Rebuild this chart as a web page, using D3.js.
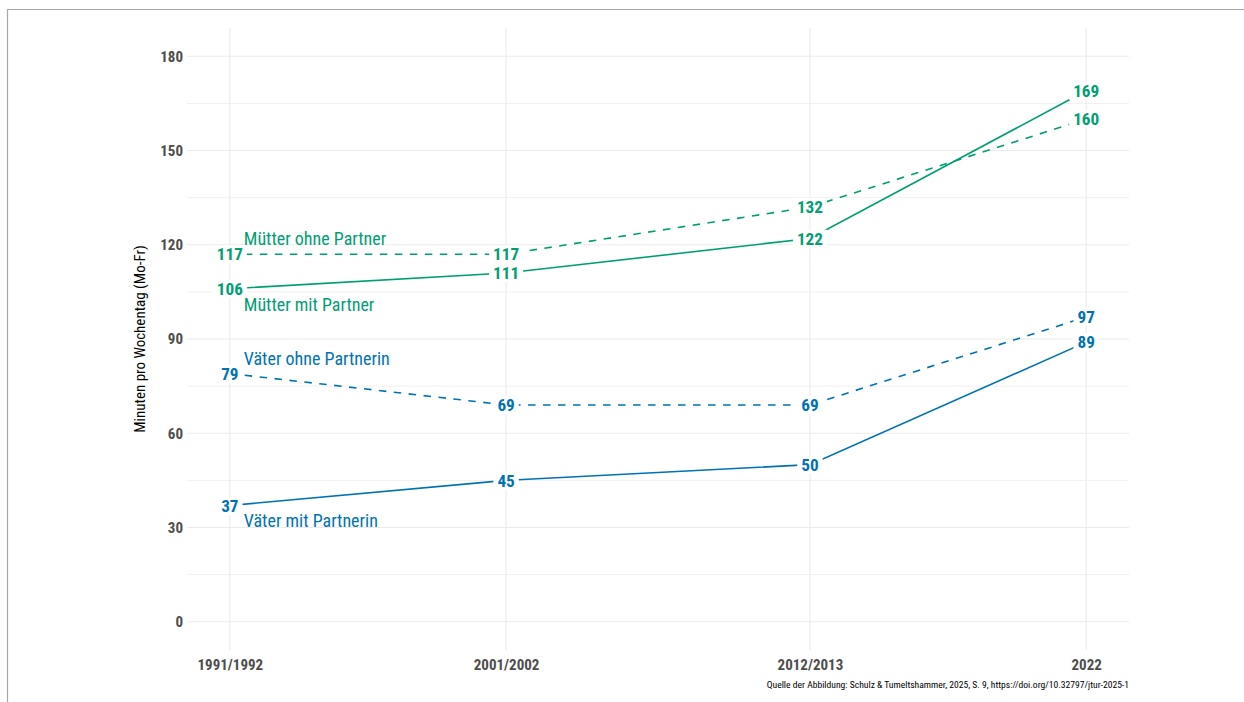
<!DOCTYPE html>
<html lang="de">
<head>
    <meta charset="UTF-8">
    <title>Minuten pro Wochentag</title>
    <script src="https://d3js.org/d3.v7.min.js"></script>
    <style>
        html, body {
            margin: 0;
            padding: 0;
            background: #ffffff;
        }
        svg text {
            font-family: 'Roboto Condensed', Roboto, sans-serif;
        }
    </style>
</head>
<body>
    <svg id="chart" width="1244" height="702"></svg>
    <script>
        // data
        const years = [1991, 2001, 2012, 2022];
        const yearLabels = ['1991/1992', '2001/2002', '2012/2013', '2022'];
        const muetterMitPartner = [106, 111, 122, 169];
        const muetterOhnePartner = [117, 117, 132, 160];
        const vaeterMitPartnerin = [37, 45, 50, 89];
        const vaeterOhnePartnerin = [79, 69, 69, 97];
        const seriesNames = ['Mütter mit Partner', 'Mütter ohne Partner', 'Väter mit Partnerin', 'Väter ohne Partnerin'];
        const yTicks = [0, 30, 60, 90, 120, 150, 180];
        const yMinorTicks = [15, 45, 75, 105, 135, 165];
        const yTitle = 'Minuten pro Wochentag (Mo-Fr)';
        const caption = 'Quelle der Abbildung: Schulz & Tumeltshammer, 2025, S. 9, https://doi.org/10.32797/jtur-2025-1';

        const green = '#009E73';
        const blue = '#0072B2';

        const series = [
            { name: seriesNames[0], values: muetterMitPartner, color: green, dashed: false, above: false },
            { name: seriesNames[1], values: muetterOhnePartner, color: green, dashed: true, above: true },
            { name: seriesNames[2], values: vaeterMitPartnerin, color: blue, dashed: false, above: false },
            { name: seriesNames[3], values: vaeterOhnePartnerin, color: blue, dashed: true, above: true }
        ];

        const svg = d3.select('#chart');

        // outer frame (runs off the right and bottom edge)
        svg.append('path')
            .attr('d', 'M7.5,702 L7.5,9.5 L1244,9.5')
            .attr('fill', 'none')
            .attr('stroke', '#a6a6a6')
            .attr('stroke-width', 1.2);

        const plotL = 187, plotR = 1129, plotT = 28, plotB = 650;

        // ggplot style 5% expansion on both axes
        const x = d3.scaleLinear()
            .domain([1989.45, 2023.55])
            .range([plotL, plotR]);
        const y = d3.scaleLinear()
            .domain([-9, 189])
            .range([plotB, plotT]);

        // grid
        const grid = svg.append('g');
        grid.selectAll('.minor')
            .data(yMinorTicks)
            .enter()
            .append('line')
            .attr('x1', plotL).attr('x2', plotR)
            .attr('y1', d => y(d)).attr('y2', d => y(d))
            .attr('stroke', '#f0f0f0')
            .attr('stroke-width', 1);
        grid.selectAll('.major')
            .data(yTicks)
            .enter()
            .append('line')
            .attr('x1', plotL).attr('x2', plotR)
            .attr('y1', d => y(d)).attr('y2', d => y(d))
            .attr('stroke', '#ebebeb')
            .attr('stroke-width', 1.1);
        grid.selectAll('.vert')
            .data(years)
            .enter()
            .append('line')
            .attr('x1', d => x(d)).attr('x2', d => x(d))
            .attr('y1', plotT).attr('y2', plotB)
            .attr('stroke', '#ebebeb')
            .attr('stroke-width', 1.1);

        // axes, no domain line or ticks
        const yAxis = svg.append('g')
            .attr('transform', `translate(${plotL},0)`)
            .call(d3.axisLeft(y).tickValues(yTicks).tickSize(0).tickPadding(4));
        const xAxis = svg.append('g')
            .attr('transform', `translate(0,${plotB})`)
            .call(d3.axisBottom(x).tickValues(years).tickSize(0).tickPadding(6)
                .tickFormat((d, i) => yearLabels[i]));
        [yAxis, xAxis].forEach(ax => {
            ax.select('.domain').remove();
            ax.selectAll('text')
                .attr('fill', '#4d4d4d')
                .style('font-size', '15px')
                .style('font-weight', 'bold');
        });
        xAxis.selectAll('text').attr('dy', '0.95em');

        // y title
        svg.append('text')
            .attr('transform', `translate(145,${(plotT + plotB) / 2}) rotate(-90)`)
            .attr('text-anchor', 'middle')
            .attr('fill', '#000')
            .style('font-size', '15px')
            .text(yTitle);

        // lines
        const line = d3.line()
            .x((d, i) => x(years[i]))
            .y(d => y(d));

        svg.append('g').selectAll('path')
            .data(series)
            .enter()
            .append('path')
            .attr('d', d => line(d.values))
            .attr('fill', 'none')
            .attr('stroke', d => d.color)
            .attr('stroke-width', 1.6)
            .attr('stroke-dasharray', d => d.dashed ? '7.5,7.5' : null);

        // value labels on a white box
        const labels = svg.append('g');
        series.forEach(s => {
            s.values.forEach((v, i) => {
                const g = labels.append('g')
                    .attr('transform', `translate(${x(years[i])},${y(v)})`);
                const t = g.append('text')
                    .attr('text-anchor', 'middle')
                    .attr('dy', '0.36em')
                    .attr('fill', s.color)
                    .style('font-size', '17.2px')
                    .style('font-weight', 'bold')
                    .text(v);
                const b = t.node().getBBox();
                g.insert('rect', 'text')
                    .attr('x', b.x - 4)
                    .attr('y', b.y + 1)
                    .attr('width', b.width + 8)
                    .attr('height', b.height - 2)
                    .attr('fill', '#fff');
            });
        });

        // series names next to the first point
        svg.append('g').selectAll('text')
            .data(series)
            .enter()
            .append('text')
            .attr('x', x(years[0]) + 14)
            .attr('y', d => y(d.values[0]) + (d.above ? -9 : 22))
            .attr('fill', d => d.color)
            .style('font-size', '18px')
            .text(d => d.name);

        // caption
        svg.append('text')
            .attr('x', plotR)
            .attr('y', 688)
            .attr('text-anchor', 'end')
            .attr('fill', '#000')
            .style('font-size', '9.6px')
            .text(caption);
    </script>
</body>
</html>
